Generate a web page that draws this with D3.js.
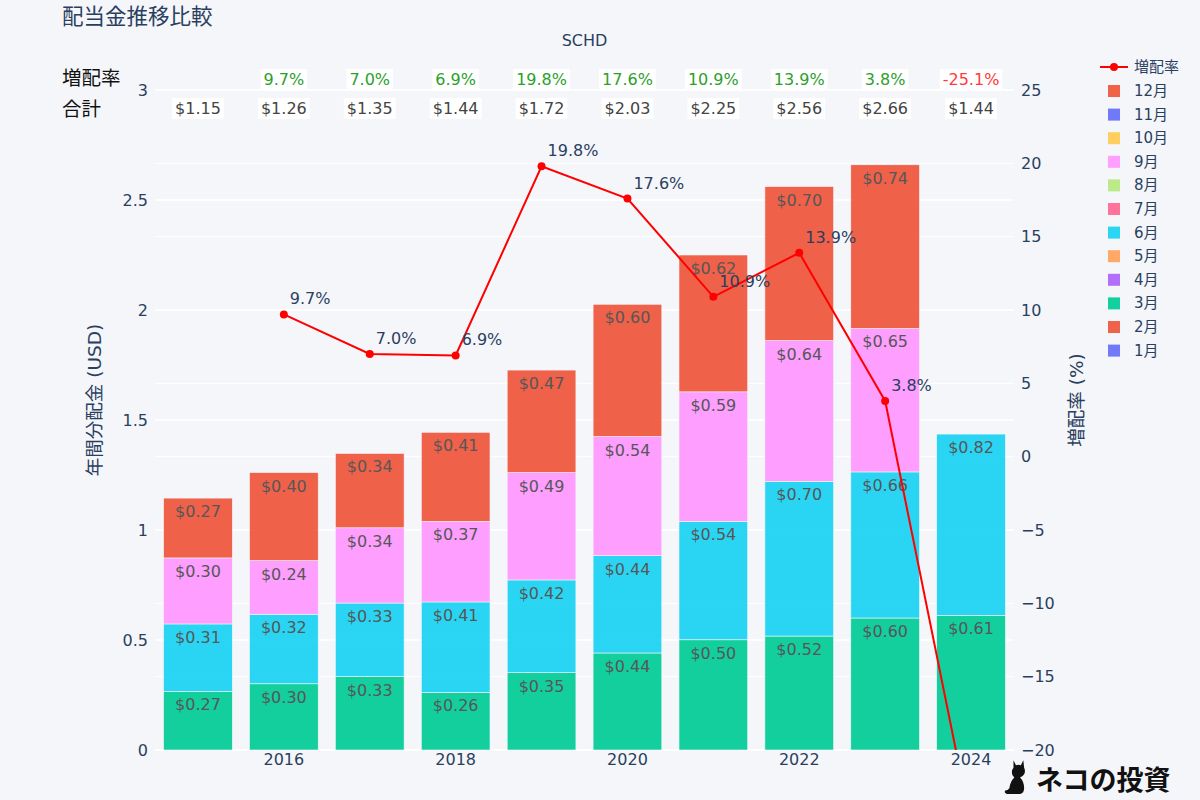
<!DOCTYPE html>
<html><head><meta charset="utf-8">
<script src="https://cdn.jsdelivr.net/npm/d3@7"></script>
<style>
html,body{margin:0;padding:0;background:#f5f6fa;}
svg{display:block;font-family:"DejaVu Sans","Noto Sans CJK JP",sans-serif;}
</style></head>
<body><svg id="c" width="1200" height="800"></svg>
<script>
const years = [2015,2016,2017,2018,2019,2020,2021,2022,2023,2024];
const months = ["1月","2月","3月","4月","5月","6月","7月","8月","9月","10月","11月","12月"];
const monthColors = ["#636EFA","#EF553B","#00CC96","#AB63FA","#FFA15A","#19D3F3","#FF6692","#B6E880","#FF97FF","#FECB52","#636EFA","#EF553B"];
// dividends per month (only Mar, Jun, Sep, Dec paid)
const divMar = [0.266,0.301,0.334,0.262,0.352,0.441,0.501,0.518,0.600,0.612];
const divJun = [0.307,0.316,0.334,0.411,0.421,0.443,0.538,0.703,0.664,0.824];
const divSep = [0.300,0.244,0.342,0.366,0.488,0.541,0.589,0.640,0.652,null];
const divDec = [0.272,0.400,0.338,0.405,0.466,0.601,0.622,0.700,0.744,null];
const totals = ["$1.15","$1.26","$1.35","$1.44","$1.72","$2.03","$2.25","$2.56","$2.66","$1.44"];
const growth = [null,9.7,7.0,6.9,19.8,17.6,10.9,13.9,3.8,-25.1];
const leftTicks = [0,0.5,1,1.5,2,2.5,3];
const rightTicks = [25,20,15,10,5,0,-5,-10,-15,-20];
const xTickYears = [2016,2018,2020,2022,2024];

const svg = d3.select("#c");
const L=155, R=1014, T=90, B=750;
const textCol = "#2a3f5f";

const x = d3.scaleBand().domain(years).range([L,R]).paddingInner(0.2).paddingOuter(0.1);
const y = d3.scaleLinear().domain([0,3]).range([B,T]);
const y2 = d3.scaleLinear().domain([-20,25]).range([B,T]);

// gridlines
const grid = svg.append("g");
leftTicks.forEach(t=>grid.append("line").attr("x1",L).attr("x2",R).attr("y1",y(t)).attr("y2",y(t)).attr("stroke","#fff").attr("stroke-width",1.5));
rightTicks.forEach(t=>grid.append("line").attr("x1",L).attr("x2",R).attr("y1",y2(t)).attr("y2",y2(t)).attr("stroke","#fff").attr("stroke-width",1));
grid.append("line").attr("x1",L).attr("x2",R).attr("y1",B).attr("y2",B).attr("stroke","#fff").attr("stroke-width",2);

// axes
const ax = d3.axisLeft(y).tickValues(leftTicks).tickSize(0).tickPadding(7).tickFormat(d=>d3.format("")(d));
const gL = svg.append("g").attr("transform",`translate(${L},0)`).call(ax);
const ax2 = d3.axisRight(y2).tickValues(rightTicks).tickSize(0).tickPadding(7).tickFormat(d=>d<0?"\u2212"+Math.abs(d):d);
const gR = svg.append("g").attr("transform",`translate(${R},0)`).call(ax2);
const axX = d3.axisBottom(x).tickValues(xTickYears).tickSize(0).tickPadding(4);
const gX = svg.append("g").attr("transform",`translate(0,${B})`).call(axX);
[gL,gR,gX].forEach(g=>{g.select(".domain").remove();g.selectAll("text").attr("fill",textCol).style("font-size","16px").style("font-family","'DejaVu Sans',sans-serif");});

// stacked bars
const series = [[2,divMar],[5,divJun],[8,divSep],[11,divDec]];
const barG = svg.append("g").attr("opacity",0.92);
years.forEach((yr,i)=>{
  let base=0;
  series.forEach(([mi,arr])=>{
    const v=arr[i]; if(v==null) return;
    const y0=y(base), y1=y(base+v);
    barG.append("rect").attr("x",x(yr)).attr("width",x.bandwidth()).attr("y",y1).attr("height",y0-y1)
      .attr("fill",monthColors[mi]).attr("stroke","#f5f6fa").attr("stroke-width",0.6);
    barG.append("text").attr("x",x(yr)+x.bandwidth()/2).attr("y",y1+19).attr("text-anchor","middle")
      .attr("fill","#4a4a4a").style("font-size","16px").text("$"+v.toFixed(2));
    base+=v;
  });
});

// growth line
svg.append("clipPath").attr("id","clip").append("rect").attr("x",L).attr("y",T-60).attr("width",R-L).attr("height",B-T+60);
const pts = years.map((yr,i)=>({yr,g:growth[i]})).filter(d=>d.g!=null);
const cx = d=>x(d.yr)+x.bandwidth()/2;
const lineG = svg.append("g").attr("clip-path","url(#clip)");
lineG.append("path").datum(pts).attr("d",d3.line().x(cx).y(d=>y2(d.g))).attr("fill","none").attr("stroke","#ff0000").attr("stroke-width",2);
lineG.selectAll("circle").data(pts).join("circle").attr("cx",cx).attr("cy",d=>y2(d.g)).attr("r",4).attr("fill","#ff0000");
lineG.selectAll("text.gl").data(pts).join("text").attr("class","gl").attr("x",d=>cx(d)+6).attr("y",d=>y2(d.g)-10)
  .attr("fill",textCol).style("font-size","16px").text(d=>d.g.toFixed(1)+"%");

// top annotations
const ann = svg.append("g");
years.forEach((yr,i)=>{
  const c = x(yr)+x.bandwidth()/2;
  if(growth[i]!=null){
    const t = ann.append("text").attr("x",c).attr("y",85).attr("text-anchor","middle").style("font-size","16px")
      .attr("fill",growth[i]>=0?"#2ca02c":"#ff3b3b").text(growth[i].toFixed(1)+"%");
    const bb=t.node().getBBox();
    ann.insert("rect","text").attr("x",bb.x-3).attr("y",bb.y-1).attr("width",bb.width+6).attr("height",bb.height+2).attr("fill","#fff");
  }
  const t2 = ann.append("text").attr("x",c).attr("y",114).attr("text-anchor","middle").style("font-size","16px")
    .attr("fill","#444").text(totals[i]);
  const bb2=t2.node().getBBox();
  ann.insert("rect","text").attr("x",bb2.x-3).attr("y",bb2.y-1).attr("width",bb2.width+6).attr("height",bb2.height+2).attr("fill","#fff");
});
svg.append("text").attr("x",62).attr("y",85).style("font-size","19.5px").attr("fill","#111").text("増配率");
svg.append("text").attr("x",62).attr("y",116).style("font-size","19.5px").attr("fill","#111").text("合計");

// titles
svg.append("text").attr("x",62).attr("y",24).style("font-size","21.5px").attr("fill",textCol).text("配当金推移比較");
svg.append("text").attr("x",(L+R)/2).attr("y",46).attr("text-anchor","middle").style("font-size","16px").attr("fill",textCol).text("SCHD");
svg.append("text").attr("transform","translate(101,400) rotate(-90)").attr("text-anchor","middle").style("font-size","18.5px").attr("fill",textCol).text("年間分配金 (USD)");
svg.append("text").attr("transform","translate(1083,400) rotate(-90)").attr("text-anchor","middle").style("font-size","18.5px").attr("fill",textCol).text("増配率 (%)");

// legend
const lg = svg.append("g");
lg.append("line").attr("x1",1100).attr("x2",1128).attr("y1",67).attr("y2",67).attr("stroke","#ff0000").attr("stroke-width",2);
lg.append("circle").attr("cx",1114).attr("cy",67).attr("r",4).attr("fill","#ff0000");
lg.append("text").attr("x",1134).attr("y",72).style("font-size","15px").attr("fill",textCol).text("増配率");
const legOrder = d3.range(11,-1,-1);
legOrder.forEach((mi,k)=>{
  const yy = 91 + k*23.6;
  lg.append("rect").attr("x",1108).attr("y",yy-6).attr("width",12).attr("height",12).attr("fill",monthColors[mi]).attr("opacity",0.92);
  lg.append("text").attr("x",1134).attr("y",yy+5).style("font-size","15px").attr("fill",textCol).text(months[mi]);
});

// logo
const logo = svg.append("g").attr("transform","translate(1002,757) scale(0.82)");
logo.append("path").attr("fill","#111").attr("d",
 "M14,4 L17,10 Q20,9 23,10 L26,4 L27,13 Q29,17 27,21 Q25,24 22,25 Q27,30 27,38 Q27,44 22,45 L6,45 Q2,44 4,41 Q7,41 9,38 Q10,30 15,25 Q12,23 12,19 Q12,15 14,13 Z");
svg.append("text").attr("x",1036).attr("y",790).style("font-size","27px").style("font-weight","bold")
  .style("font-family","'Noto Sans CJK JP',sans-serif").attr("fill","#111").text("ネコの投資");
</script></body></html>
